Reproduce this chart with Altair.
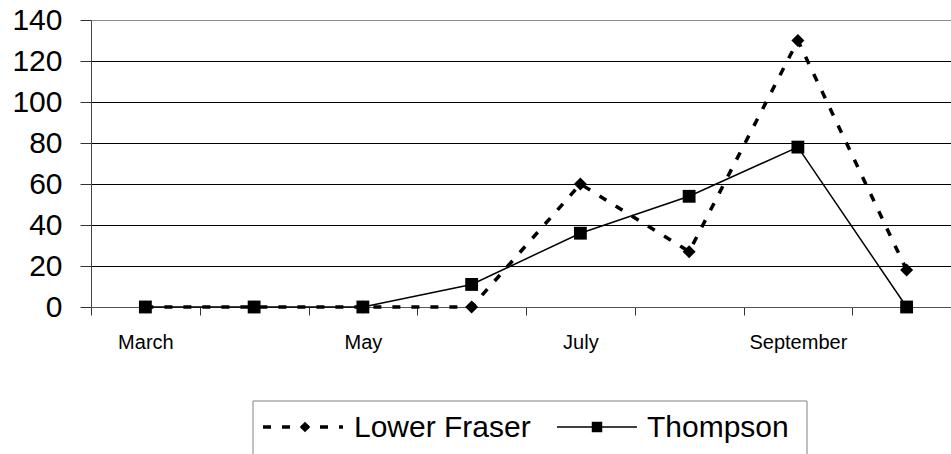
import altair as alt
import pandas as pd

# Monthly counts per river system
months = ["March", "April", "May", "June", "July", "August", "September", "October"]
lower_fraser = [0, 0, 0, 0, 60, 27, 130, 18]
thompson = [0, 0, 0, 11, 36, 54, 78, 0]
series_names = ["Lower Fraser", "Thompson"]
labelled_months = months[::2]
y_ticks = list(range(0, 141, 20))

FONT = "Liberation Sans"

df = pd.DataFrame(
    {
        "month": months * 2,
        "value": lower_fraser + thompson,
        "series": [series_names[0]] * len(months) + [series_names[1]] * len(months),
    }
)

label_list = "[" + ",".join(f"'{m}'" for m in labelled_months) + "]"

x_enc = alt.X(
    "month:N",
    sort=months,
    bandPosition=0.5,
    scale=alt.Scale(type="band", domain=months, range=[0, 870], paddingInner=0, paddingOuter=0),
    axis=alt.Axis(
        title=None,
        tickBand="extent",
        tickSize=8,
        tickColor="#333333",
        domainColor="#555555",
        labelFont=FONT,
        labelFontSize=20,
        labelColor="black",
        labelPadding=17,
        labelAngle=0,
        labelOverlap=False,
        labelExpr=f"indexof({label_list}, datum.value) >= 0 ? datum.value : ''",
    ),
)
y_enc = alt.Y(
    "value:Q",
    scale=alt.Scale(domain=[0, 140], nice=False),
    axis=alt.Axis(
        title=None,
        values=y_ticks,
        tickSize=11,
        tickColor="#333333",
        domainColor="#444444",
        labelFont=FONT,
        labelFontSize=30,
        labelColor="black",
        labelPadding=18,
        grid=True,
        gridColor={"condition": {"test": "datum.value === 140", "value": "#8c8c8c"}, "value": "black"},
        gridWidth=1,
    ),
)

base = alt.Chart(df).encode(x=x_enc, y=y_enc)

lf = base.transform_filter(alt.datum.series == series_names[0])
th = base.transform_filter(alt.datum.series == series_names[1])

lf_line = lf.mark_line(color="black", strokeWidth=3.5, strokeDash=[8, 11])
lf_pts = lf.mark_point(shape="diamond", filled=True, color="black", size=170, opacity=1)
th_line = th.mark_line(color="black", strokeWidth=1.5)
th_pts = th.mark_point(shape="square", filled=True, color="black", size=165, opacity=1)

# Legend drawn below the plot
one = pd.DataFrame({"series": [series_names[0]]})
two = pd.DataFrame({"series": [series_names[1]]})

legend_box = alt.Chart(one).mark_rect(fill="white", stroke="#808080", strokeWidth=1).encode(
    x=alt.value(162), x2=alt.value(716), y=alt.value(381), y2=alt.value(450)
)
lf_key_line = alt.Chart(one).mark_rule(color="black", strokeWidth=3.5, strokeDash=[8, 11]).encode(
    x=alt.value(172), x2=alt.value(252), y=alt.value(407)
)
lf_key_pt = alt.Chart(one).mark_point(shape="diamond", filled=True, color="black", size=110, opacity=1).encode(
    x=alt.value(214), y=alt.value(407)
)
lf_key_text = alt.Chart(one).mark_text(
    font=FONT, fontSize=30, align="left", baseline="middle", color="black"
).encode(x=alt.value(263), y=alt.value(408), text="series:N")

th_key_line = alt.Chart(two).mark_rule(color="black", strokeWidth=1.5).encode(
    x=alt.value(466), x2=alt.value(546), y=alt.value(407)
)
th_key_pt = alt.Chart(two).mark_point(shape="square", filled=True, color="black", size=110, opacity=1).encode(
    x=alt.value(506), y=alt.value(407)
)
th_key_text = alt.Chart(two).mark_text(
    font=FONT, fontSize=30, align="left", baseline="middle", color="black"
).encode(x=alt.value(556), y=alt.value(408), text="series:N")

chart = (
    alt.layer(
        th_line, lf_line, th_pts, lf_pts,
        legend_box, lf_key_line, lf_key_pt, lf_key_text, th_key_line, th_key_pt, th_key_text,
    )
    .properties(
        width=860,
        height=287,
        padding={"left": 91, "top": 20, "right": 0, "bottom": 147},
        autosize=alt.AutoSizeParams(type="none"),
        background="white",
    )
    .configure_view(stroke=None)
)

chart.save("out.html", embed_options={"renderer": "svg", "actions": False})
